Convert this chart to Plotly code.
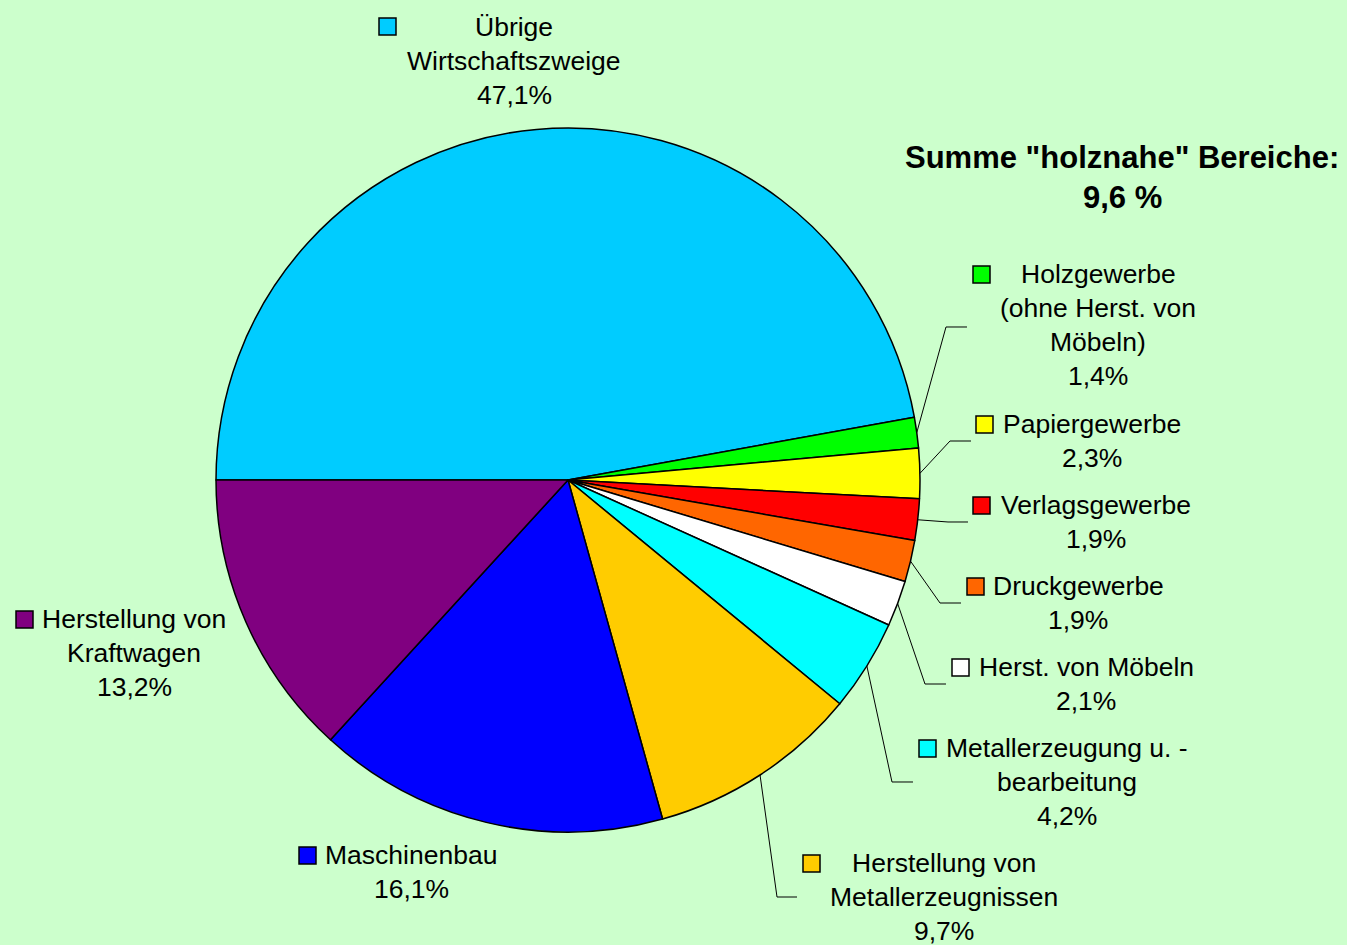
import math

import plotly.graph_objects as go

W, H = 1347, 945

# --- data -------------------------------------------------------------
labels = [
    "Übrige Wirtschaftszweige",
    "Holzgewerbe (ohne Herst. von Möbeln)",
    "Papiergewerbe",
    "Verlagsgewerbe",
    "Druckgewerbe",
    "Herst. von Möbeln",
    "Metallerzeugung u. -bearbeitung",
    "Herstellung von Metallerzeugnissen",
    "Maschinenbau",
    "Herstellung von Kraftwagen",
]
values = [47.1, 1.4, 2.3, 1.9, 1.9, 2.1, 4.2, 9.7, 16.1, 13.2]
colors = [
    "#00CCFF", "#00FF00", "#FFFF00", "#FF0000", "#FF6600",
    "#FFFFFF", "#00FFFF", "#FFCC00", "#0000FF", "#800080",
]
label_lines = [
    ["Übrige", "Wirtschaftszweige"],
    ["Holzgewerbe", "(ohne Herst. von", "Möbeln)"],
    ["Papiergewerbe"],
    ["Verlagsgewerbe"],
    ["Druckgewerbe"],
    ["Herst. von Möbeln"],
    ["Metallerzeugung u. -", "bearbeitung"],
    ["Herstellung von", "Metallerzeugnissen"],
    ["Maschinenbau"],
    ["Herstellung von", "Kraftwagen"],
]
summe_lines = ['Summe "holznahe" Bereiche:', "9,6 %"]

# --- layout (pixels) --------------------------------------------------
# label block: centre x, y of first line, key square top-left
label_pos = [
    (514, 27, (379, 18)),
    (1098, 274, (973, 266)),
    (1092, 424, (976, 416)),
    (1096, 505, (973, 497)),
    (1078, 586, (967, 578)),
    (1086, 667, (952, 659)),
    (1067, 748, (919, 740)),
    (944, 863, (803, 855)),
    (411, 855, (299, 847)),
    (134, 619, (16, 611)),
]
# leader lines: elbow point and end point (None = no leader)
leaders = [
    None,
    ((946, 327), (967, 327)),
    ((950, 441), (971, 441)),
    ((948, 522), (968, 522)),
    ((940, 603), (961, 603)),
    ((925, 684), (946, 684)),
    ((892, 782), (913, 782)),
    ((777, 897), (797, 897)),
    None,
    None,
]
LINE_STEP = 34
KEY = 17
CX, CY, R = 568, 480, 352


def px(x, y):
    return x / W, 1 - y / H


fig = go.Figure(
    go.Pie(
        labels=labels,
        values=values,
        marker={"colors": colors, "line": {"color": "black", "width": 1.5}},
        sort=False,
        direction="clockwise",
        rotation=270,
        textinfo="none",
        hoverinfo="label+percent",
        showlegend=False,
        domain={"x": [(CX - R) / W, (CX + R) / W], "y": [1 - (CY + R) / H, 1 - (CY - R) / H]},
    )
)

font = {"family": "Liberation Sans, Arial, sans-serif", "size": 26.5, "color": "black"}
annotations = []
shapes = []
total = sum(values)
cum = 0.0
for i, v in enumerate(values):
    mid = cum + v / 2
    cum += v
    lines = label_lines[i] + [f"{v:.1f}".replace(".", ",") + "%"]
    cx, y0, (kx, ky) = label_pos[i]
    for j, line in enumerate(lines):
        x, y = px(cx, y0 + j * LINE_STEP)
        annotations.append(
            dict(text=line, x=x, y=y, xref="paper", yref="paper", xanchor="center",
                 yanchor="middle", showarrow=False, font=font)
        )
    x0, yb = px(kx, ky + KEY)
    x1, yt = px(kx + KEY, ky)
    shapes.append(
        dict(type="rect", xref="paper", yref="paper", x0=x0, x1=x1, y0=yb, y1=yt,
             fillcolor=colors[i], line={"color": "black", "width": 1.5})
    )
    if leaders[i]:
        theta = math.radians(270 + mid / total * 360)
        sx, sy = CX + R * math.sin(theta), CY - R * math.cos(theta)
        (ex, ey), (hx, hy) = leaders[i]
        pts = [px(sx, sy), px(ex, ey), px(hx, hy)]
        path = "M " + " L ".join(f"{a:.5f},{b:.5f}" for a, b in pts)
        shapes.append(dict(type="path", xref="paper", yref="paper", path=path,
                           line={"color": "black", "width": 1}))

bold = {"family": "Liberation Sans, Arial, sans-serif", "size": 31, "color": "black"}
for j, line in enumerate(summe_lines):
    x, y = px(1122, 157 + j * 40)
    annotations.append(
        dict(text=f"<b>{line}</b>", x=x, y=y, xref="paper", yref="paper", xanchor="center",
             yanchor="middle", showarrow=False, font=bold)
    )

fig.update_layout(
    width=W,
    height=H,
    margin={"l": 0, "r": 0, "t": 0, "b": 0},
    paper_bgcolor="#CCFFCC",
    plot_bgcolor="#CCFFCC",
    annotations=annotations,
    shapes=shapes,
)
fig.write_html(
    "out.html",
    config={"displayModeBar": False},
    post_script="document.body.style.margin='0';document.body.style.overflow='hidden';",
)
